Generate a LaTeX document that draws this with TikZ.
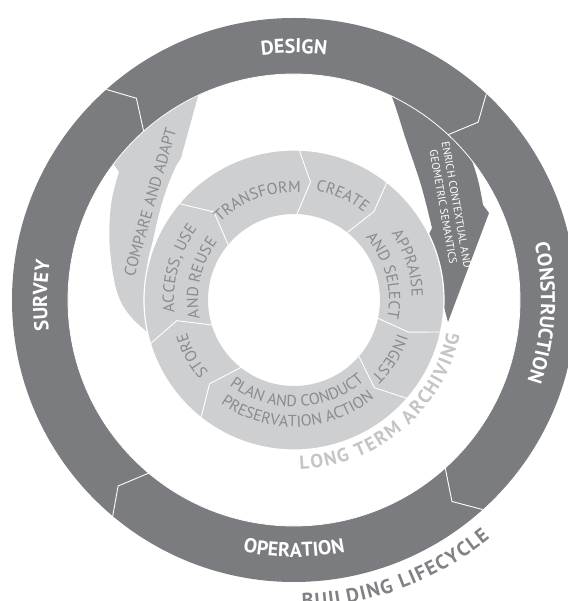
\documentclass[tikz,border=0pt]{standalone}
\usepackage{fontspec}
\setmainfont{PT Sans}
\usetikzlibrary{decorations.text}
\definecolor{ringdark}{RGB}{123,124,128}
\definecolor{ringlight}{RGB}{206,207,209}
\definecolor{txtgray}{RGB}{138,139,143}
\definecolor{archgray}{RGB}{196,197,199}
\definecolor{lifegray}{RGB}{128,129,133}
\newcommand\lblfont{\bfseries\fontsize{20bp}{24bp}\selectfont}
\newcommand\innfont{\fontsize{16bp}{19bp}\selectfont}
\newcommand\archfont{\bfseries\fontsize{19bp}{22bp}\selectfont}
\newcommand\lifefont{\bfseries\fontsize{20bp}{24bp}\selectfont}
\newcommand\enrfont{\fontsize{11bp}{13.5bp}\selectfont}
\begin{document}
\begin{tikzpicture}[x=1bp,y=1bp,
  chev/.style={white,line width=0.9bp,line join=miter},
  edgeline/.style={white,line width=0.8bp}]
\useasboundingbox (-294,-301) rectangle (274,300);
\clip (-294,-301) rectangle (274,300);

% compare and adapt arrow (light)
\fill[ringlight] plot[smooth,tension=0.6] coordinates {(-119,-45) (-148,-31) (-174,0) (-184,50) (-183,95) (-175,128)}
  -- (-182,138) -- (-88,233) -- (-113,142)
  -- plot[smooth,tension=0.6] coordinates {(-118,134) (-126,115) (-134,90) (-141,60) (-147,30) (-144,-20)} -- cycle;

% enrich arrow (dark)
\fill[ringdark] plot[smooth,tension=0.6] coordinates {(81,240) (98,203) (112,160) (127,115) (138,72)}
  -- (132,60) -- (154,-22) -- (195,87)
  -- plot[smooth,tension=0.6] coordinates {(189,95) (184,120) (176,145) (161,185) (140,225)} -- cycle;

% outer ring
\fill[ringdark, even odd rule] (0,0) circle (282) (0,0) circle (226);
\draw[edgeline] (0,0) circle (226);
\foreach \b/\k in {131.7/128, 47/44, -48/-51.9, -130/-133.4}
  \draw[chev] (\b:226) -- (\k:256) -- (\b:282);

% inner ring
\fill[ringlight, even odd rule] (0,0) circle (150) (0,0) circle (86);
\draw[white,line width=1.2bp] (0,0) circle (150);
\foreach \b/\k in {88/82, 51.7/47.9, -12.3/-15.7, -41/-47.5, -128.3/-135.2, -163.1/-170, 140/132.3}
  \draw[chev] (\b:86) -- (\k:119) -- (\b:150);

% outer ring labels
\path[decorate, decoration={text along path, text align=center, text color=white, text={|\lblfont|DESIGN}}]
  (140:247) arc[start angle=140, end angle=40, radius=247];
\path[decorate, decoration={text along path, text align=center, text color=white, text={|\lblfont|CONSTRUCTION}}]
  (45:247) arc[start angle=45, end angle=-51, radius=247];
\path[decorate, decoration={text along path, text align=center, text color=white, text={|\lblfont|SURVEY}}]
  (222:247) arc[start angle=222, end angle=136, radius=247];
\path[decorate, decoration={text along path, text align=center, text color=white, text={|\lblfont|OPERATION}}]
  (-135:257) arc[start angle=-135, end angle=-45, radius=257];

% inner ring labels
\path[decorate, decoration={text along path, text align=center, text color=txtgray, text={|\innfont|TRANSFORM}}]
  (170:107.5) arc[start angle=170, end angle=50, radius=107.5];
\path[decorate, decoration={text along path, text align=center, text color=txtgray, text={|\innfont|CREATE}}]
  (115:112) arc[start angle=115, end angle=15, radius=112];
\path[decorate, decoration={text along path, text align=center, text color=txtgray, text={|\innfont|APPRAISE}}]
  (68:118) arc[start angle=68, end angle=-32, radius=118];
\path[decorate, decoration={text along path, text align=center, text color=txtgray, text={|\innfont|AND SELECT}}]
  (75:95) arc[start angle=75, end angle=-45, radius=95];
\path[decorate, decoration={text along path, text align=center, text color=txtgray, text={|\innfont|INGEST}}]
  (18.5:109) arc[start angle=18.5, end angle=-81.5, radius=109];
\path[decorate, decoration={text along path, text align=center, text color=txtgray, text={|\innfont|PLAN AND CONDUCT}}]
  (-178:107) arc[start angle=-178, end angle=2, radius=107];
\path[decorate, decoration={text along path, text align=center, text color=txtgray, text={|\innfont|PRESERVATION ACTION}}]
  (-173:127) arc[start angle=-173, end angle=-3, radius=127];
\path[decorate, decoration={text along path, text align=center, text color=txtgray, text={|\innfont|STORE}}]
  (-101.4:112) arc[start angle=-101.4, end angle=-201.4, radius=112];
\path[decorate, decoration={text along path, text align=center, text color=txtgray, text={|\innfont|ACCESS, USE}}]
  (224.8:120) arc[start angle=224.8, end angle=104.8, radius=120];
\path[decorate, decoration={text along path, text align=center, text color=txtgray, text={|\innfont|AND REUSE}}]
  (226.8:96) arc[start angle=226.8, end angle=106.8, radius=96];

% cycle titles
\path[decorate, decoration={text along path, text align=fit to path, text color=archgray, text={|\archfont|LONG TERM ARCHIVING}}]
  (-88:169.5) arc[start angle=-88, end angle=-12, radius=169.5];
\path[decorate, decoration={text along path, text align=fit to path, text color=lifegray, text={|\lifefont|BUILDING LIFECYCLE}}]
  (-88.5:308) arc[start angle=-88.5, end angle=-50.5, radius=308];

% arrow labels
\node[rotate=74, text=txtgray, font=\innfont, inner sep=0pt] (cmp) at (-144,98) {COMPARE AND ADAPT};
\node[rotate=-80, text=white, font=\enrfont, align=center, inner sep=0pt] (enr) at (156,94) {ENRICH CONTEXTUAL AND\\GEOMETRIC SEMANTICS};
\end{tikzpicture}
\end{document}
